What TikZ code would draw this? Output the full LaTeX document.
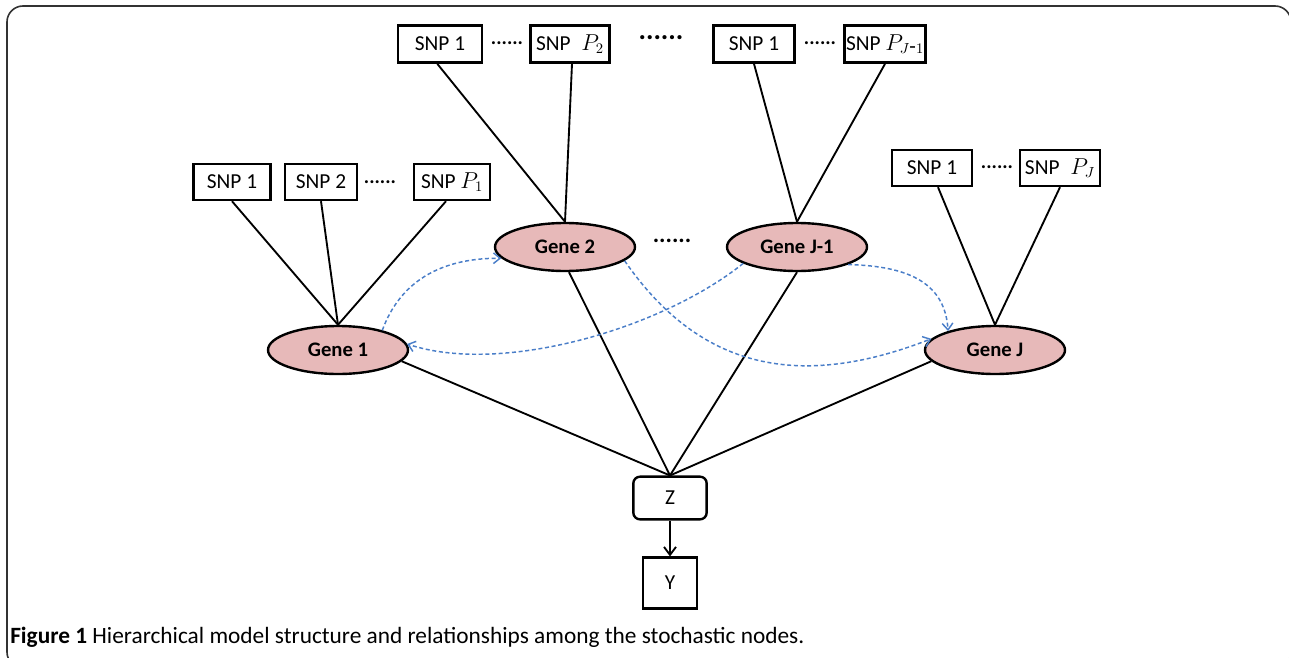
\documentclass[tikz,border=0pt]{standalone}
\usepackage{fontspec}
\setmainfont{Carlito}
\usetikzlibrary{shapes.geometric,arrows.meta}
\definecolor{genefill}{RGB}{231,185,185}
\definecolor{dashblue}{RGB}{74,126,200}
\definecolor{framegray}{RGB}{50,50,50}
\begin{document}
\begin{tikzpicture}[x=0.75pt,y=-0.75pt,
  snpbox/.style={draw,line width=1.8pt,minimum height=28pt,inner sep=0pt,font=\fontsize{16}{19}\selectfont},
  gene/.style={ellipse,draw,line width=1.8pt,fill=genefill,minimum width=105pt,minimum height=36pt,inner sep=0pt,font=\bfseries\fontsize{15.5}{18}\selectfont},
  dotsnode/.style={inner sep=0pt,font=\bfseries\fontsize{15}{18}\selectfont},
  link/.style={line width=1.4pt},
  rel/.style={dashblue,line width=1.1pt,dash pattern=on 3pt off 2pt,-{Straight Barb[length=5pt,width=8pt,line width=1.1pt]}}
]
\useasboundingbox (0,0) rectangle (1289,657);
% frame
\draw[framegray,line width=1.2pt,rounded corners=12pt] (7,6) rectangle (1291,668);

% top-row SNPs
\node[snpbox,minimum width=63pt] (a1) at (440,44) {SNP 1};
\node[dotsnode] (d1) at (507,43) {......};
\node[snpbox,minimum width=59pt] (a2) at (570,44) {SNP\; $P_2$};
\node[dotsnode,font=\bfseries\fontsize{21}{24}\selectfont] (d2) at (661,38) {......};
\node[snpbox,minimum width=61pt] (b1) at (754,44) {SNP 1};
\node[dotsnode] (d3) at (820,43) {......};
\node[snpbox,minimum width=61pt] (b2) at (885,44) {SNP $P_{J\mbox{-}1}$};

% second-row SNPs
\node[snpbox,minimum width=58pt,minimum height=27pt] (c1) at (232,182) {SNP 1};
\node[snpbox,minimum width=54pt,minimum height=27pt] (c2) at (321,182) {SNP 2};
\node[dotsnode] (d4) at (380,182) {......};
\node[snpbox,minimum width=57pt,minimum height=27pt] (c3) at (452,182) {SNP $P_1$};
\node[snpbox,minimum width=60pt,minimum height=27pt] (e1) at (932,168) {SNP 1};
\node[dotsnode] (d5) at (997,167) {......};
\node[snpbox,minimum width=60pt,minimum height=27pt] (e2) at (1060,168) {SNP\; $P_J$};

% genes
\node[gene] (g1) at (338,350) {Gene 1};
\node[gene] (g2) at (565,247) {Gene 2};
\node[dotsnode,font=\bfseries\fontsize{18}{20}\selectfont] (d6) at (672,241) {......};
\node[gene] (g3) at (797,247) {Gene J-1};
\node[gene] (g4) at (995,350) {Gene J};

% Z and Y
\node[draw,line width=1.8pt,rounded corners=5pt,minimum width=55pt,minimum height=32pt,inner sep=0pt,font=\fontsize{16}{19}\selectfont] (z) at (670,498) {Z};
\node[draw,line width=1.8pt,minimum width=40.5pt,minimum height=38pt,inner sep=0pt,font=\fontsize{16}{19}\selectfont] (y) at (670,583) {Y};

% SNP to gene links
\draw[link] (c1.south) -- (g1.north);
\draw[link] (c2.south) -- (g1.north);
\draw[link] ([xshift=-4.5pt]c3.south) -- (g1.north);
\draw[link] ([xshift=-2pt]a1.south) -- (g2.north);
\draw[link] ([xshift=1.5pt]a2.south) -- (g2.north);
\draw[link] (b1.south) -- (g3.north);
\draw[link] (b2.south) -- (g3.north);
\draw[link] ([xshift=4.5pt]e1.south) -- (g4.north);
\draw[link] (e2.south) -- (g4.north);

% genes to Z
\draw[link] (g1.-10) -- (z.north);
\draw[link] ([xshift=3pt]g2.south) -- (z.north);
\draw[link] (g3.south) -- (z.north);
\draw[link] (g4.190) -- (z.north);
\draw[link,-{Straight Barb[length=6pt,width=9pt,line width=1.4pt]}] (z.south) -- (y.north);

% dashed relations
\draw[rel] (g1.24) .. controls (400,282) and (440,258) .. (g2.190);
\draw[rel] (g3.197) .. controls (660,330) and (500,375) .. (g1.5);
\draw[rel] (g2.-13) .. controls (700,370) and (800,390) .. (g4.170);
\draw[rel] (g3.-19) .. controls (912,266) and (945,285) .. (g4.158);

% caption
\node[anchor=base west,inner sep=0pt,font=\fontsize{17.5}{20}\selectfont] (cap) at (10,643) {\textbf{Figure 1} Hierarchical model structure and relationships among the stochastic nodes.};
\end{tikzpicture}
\end{document}
